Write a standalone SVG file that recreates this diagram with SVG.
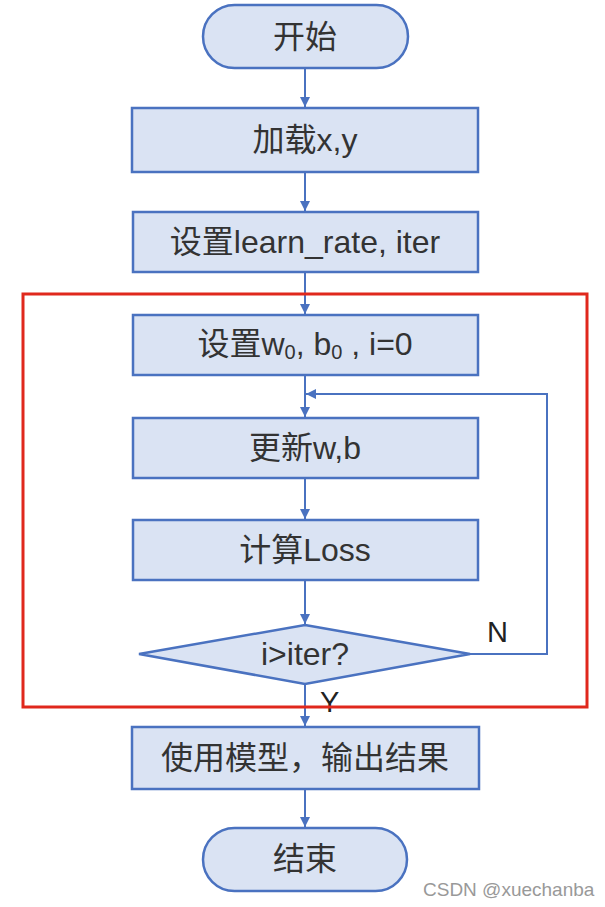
<svg xmlns="http://www.w3.org/2000/svg" width="605" height="907" viewBox="0 0 605 907">
<style>
.n{fill:#dae3f3;stroke:#4a72c0;stroke-width:2.5}
.t{font-family:"Liberation Sans","Noto Sans CJK SC",sans-serif;font-size:32px;fill:#333;text-anchor:middle;dominant-baseline:central}
.c{fill:none;stroke:#4a72c0;stroke-width:2}
.l{font-family:"Liberation Sans","Noto Sans",sans-serif;font-size:29px;fill:#222}
</style>
<defs>
<marker id="a" viewBox="0 0 10 10" refX="10" refY="5" markerWidth="5" markerHeight="5" orient="auto" markerUnits="strokeWidth">
<path d="M0,0L10,5L0,10z" fill="#4a72c0"/>
</marker>
</defs>
<rect x="0" y="0" width="605" height="907" fill="#fff"/>
<g id="connectors">
<line class="c" x1="305" y1="68" x2="305" y2="107" marker-end="url(#a)"/>
<line class="c" x1="305" y1="172" x2="305" y2="211" marker-end="url(#a)"/>
<line class="c" x1="305" y1="272" x2="305" y2="314" marker-end="url(#a)"/>
<line class="c" x1="305" y1="375" x2="305" y2="417" marker-end="url(#a)"/>
<line class="c" x1="305" y1="478" x2="305" y2="519" marker-end="url(#a)"/>
<line class="c" x1="305" y1="580" x2="305" y2="624" marker-end="url(#a)"/>
<line class="c" x1="305" y1="684" x2="305" y2="726" marker-end="url(#a)"/>
<line class="c" x1="305" y1="789" x2="305" y2="827" marker-end="url(#a)"/>
<polyline class="c" points="470,654 547,654 547,394 306,394" marker-end="url(#a)"/>
<text class="l" x="487" y="642">N</text>
<text class="l" x="320" y="712">Y</text>
</g>
<rect x="23" y="294" width="564" height="413" fill="none" stroke="#e0281c" stroke-width="3"/>
<g id="start"><rect class="n" x="203" y="5" width="205" height="63" rx="31.5"/><text class="t" x="305" y="37">开始</text></g>
<g id="load"><rect class="n" x="132" y="108" width="346" height="64"/><text class="t" x="305" y="140">加载x,y</text></g>
<g id="setlr"><rect class="n" x="133" y="212" width="345" height="60"/><text class="t" x="305" y="242">设置learn_rate, iter</text></g>
<g id="init"><rect class="n" x="133" y="315" width="345" height="60"/><text class="t" x="305" y="344">设置w<tspan font-size="20" dy="8">0</tspan><tspan dy="-8">, b</tspan><tspan font-size="20" dy="8">0</tspan><tspan dy="-8"> , i=0</tspan></text></g>
<g id="update"><rect class="n" x="133" y="418" width="345" height="60"/><text class="t" x="305" y="448">更新w,b</text></g>
<g id="loss"><rect class="n" x="133" y="520" width="345" height="60"/><text class="t" x="305" y="550">计算Loss</text></g>
<g id="cond"><polygon class="n" points="305,625 470,654 305,684 139,654"/><text class="t" x="305" y="654">i&gt;iter?</text></g>
<g id="output"><rect class="n" x="132" y="727" width="347" height="62"/><text class="t" x="305" y="758">使用模型，输出结果</text></g>
<g id="end"><rect class="n" x="203" y="828" width="204" height="63" rx="31.5"/><text class="t" x="305" y="859">结束</text></g>
<text x="423" y="896" font-family="Liberation Sans,sans-serif" font-size="19" fill="#999">CSDN @xuechanba</text>
</svg>
